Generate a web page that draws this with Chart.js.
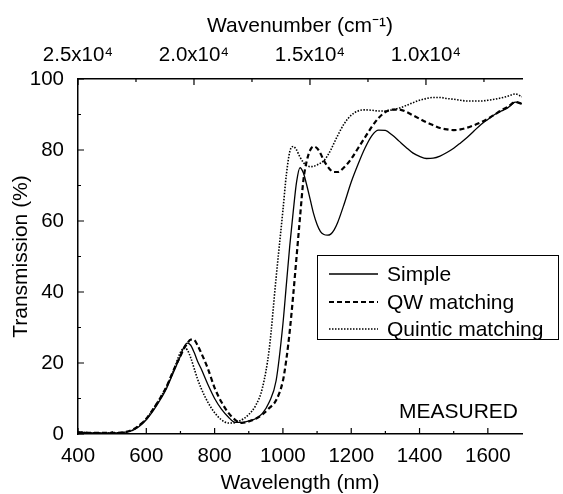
<!DOCTYPE html>
<html lang="en">
<head>
  <meta charset="UTF-8">
  <title>Transmission spectra</title>
  <script src="https://cdn.jsdelivr.net/npm/chart.js"></script>
  <style>
    html, body { margin: 0; padding: 0; background: #fff; }
    canvas { display: block; }
  </style>
</head>
<body>
  <canvas id="chart" width="563" height="494"></canvas>
  <script>
    // wavelength grid (nm) shared by the three curves
    const wavelength = [400, 450, 500, 540, 560, 580, 600, 620, 640, 660, 680, 700, 710, 720, 730, 740, 750, 760, 780, 800,
      820, 840, 860, 880, 900, 920, 940, 960, 980, 1000, 1010, 1020, 1030, 1040, 1050, 1060, 1070, 1080, 1090, 1100,
      1110, 1120, 1130, 1140, 1150, 1160, 1180, 1200, 1220, 1240, 1260, 1280, 1300, 1320, 1340, 1360, 1380, 1400,
      1420, 1440, 1460, 1480, 1500, 1520, 1540, 1560, 1580, 1600, 1620, 1640, 1660, 1680, 1700];

    // transmission (%)
    const simple = [0.5, 0.3, 0.3, 0.5, 1, 2.2, 4, 6.5, 9.5, 13, 17.5, 22, 24.5, 25.6, 25, 23, 20.5, 18.5, 14, 10,
      7, 4.8, 3.3, 3.3, 3.7, 4.3, 5.8, 9, 15, 31, 42, 53, 62.5, 71, 75, 73.5, 70, 66, 62, 59,
      57, 56.2, 56, 56.3, 57.5, 59.5, 65, 71, 76, 80.5, 84, 85.6, 85.5, 84.2, 82.5, 80.8, 79.2, 78.2,
      77.6, 77.7, 78.3, 79.3, 80.5, 82, 83.6, 85.4, 87.2, 88.6, 90, 91, 92, 93.5, 93];

    const qwMatching = [0.5, 0.3, 0.3, 0.6, 1.2, 2.5, 4.3, 7, 10, 13.5, 18, 22, 24, 25.5, 26.6, 26.5, 25, 23, 18.5, 13,
      9, 6, 4, 3.1, 3.5, 4.3, 5.5, 7.3, 9.5, 15, 21, 29, 39, 50, 61, 71.5, 77, 80, 81, 80.5,
      79, 77, 75.5, 74.3, 73.8, 73.8, 75.2, 77.5, 80.5, 83.5, 86.5, 89, 90.7, 91.4, 91.4, 90.8, 89.8, 88.8,
      87.8, 87, 86.2, 85.8, 85.6, 85.8, 86.3, 87, 87.8, 88.8, 90, 91.2, 92.2, 93.5, 93];

    const quinticMatching = [0.5, 0.3, 0.3, 0.5, 1.1, 2.4, 4.3, 7, 10, 13.5, 18, 23, 24.2, 23.7, 21.5, 18.5, 15.5, 13, 9, 6,
      4, 3.1, 3.2, 4, 5.5, 8, 13, 24, 44, 63, 73, 79.5, 81, 80, 78, 76.5, 75.6, 75.3, 75.4, 75.8,
      76.3, 77, 78.3, 80, 82, 84, 87.5, 89.8, 91, 91.3, 91.2, 91, 91, 91.3, 91.8, 92.5, 93.3, 94,
      94.5, 94.8, 94.8, 94.5, 94.3, 94, 93.8, 93.8, 93.8, 94, 94.3, 94.7, 95.2, 95.8, 95];

    const seriesNames = ['Simple', 'QW matching', 'Quintic matching'];

    // tick labels
    const wavelengthLabels = [400, 600, 800, 1000, 1200, 1400, 1600];
    const transmissionLabels = [0, 20, 40, 60, 80, 100];
    const wavenumberTicks = [7500, 10000, 12500, 15000, 17500, 20000, 22500, 25000];
    const wavenumberValues = [25000, 20000, 15000, 10000];
    const wavenumberLabels = ['2.5x10\u2074', '2.0x10\u2074', '1.5x10\u2074', '1.0x10\u2074'];

    const FONT = "'Liberation Sans', Arial, sans-serif";

    const toPoints = (ys) => wavelength.map((x, i) => ({ x: x, y: ys[i] }));

    const styles = [
      { borderWidth: 1.3, borderDash: [], borderColor: '#000' },
      { borderWidth: 2.2, borderDash: [5, 3], borderColor: '#000' },
      { borderWidth: 1.6, borderDash: [1.5, 1.5], borderColor: '#000' }
    ];

    // inward tick marks, drawn from the scales' own ticks
    const innerTicks = {
      id: 'innerTicks',
      afterDraw(chart) {
        const ctx = chart.ctx;
        const { x, y, x2 } = chart.scales;
        ctx.save();
        ctx.strokeStyle = '#000';
        ctx.lineWidth = 1.2;
        ctx.beginPath();
        x.ticks.forEach(t => {
          if (t.value >= 1700) return;
          const px = x.getPixelForValue(t.value);
          const len = wavelengthLabels.includes(t.value) ? 6 : 3;
          ctx.moveTo(px, x.top);
          ctx.lineTo(px, x.top - len);
        });
        y.ticks.forEach(t => {
          const py = y.getPixelForValue(t.value);
          const len = transmissionLabels.includes(t.value) ? 6 : 3;
          ctx.moveTo(y.right, py);
          ctx.lineTo(y.right + len, py);
        });
        x2.ticks.forEach(t => {
          const px = x2.getPixelForValue(t.value);
          const len = wavenumberValues.includes(t.value) ? 6 : 3;
          ctx.moveTo(px, x2.bottom);
          ctx.lineTo(px, x2.bottom + len);
        });
        ctx.stroke();
        ctx.restore();
      }
    };

    // legend box and the MEASURED note inside the plot
    const legendBox = {
      id: 'legendBox',
      afterDraw(chart) {
        const ctx = chart.ctx;
        ctx.save();
        ctx.fillStyle = '#fff';
        ctx.fillRect(317, 255, 241, 84);
        ctx.strokeStyle = '#000';
        ctx.lineWidth = 1;
        ctx.strokeRect(317.5, 255.5, 241, 84);
        const rows = [274, 302, 329];
        ctx.font = '21px ' + FONT;
        ctx.textBaseline = 'middle';
        rows.forEach((ry, i) => {
          const s = styles[i];
          ctx.beginPath();
          ctx.setLineDash(s.borderDash);
          ctx.lineWidth = s.borderWidth;
          ctx.strokeStyle = s.borderColor;
          ctx.moveTo(329, ry);
          ctx.lineTo(378, ry);
          ctx.stroke();
          ctx.setLineDash([]);
          ctx.fillStyle = '#000';
          ctx.textAlign = 'left';
          ctx.fillText(seriesNames[i], 387, ry + 1);
        });
        ctx.textAlign = 'right';
        ctx.fillText('MEASURED', 518, 412);
        ctx.restore();
      }
    };

    const tickFont = { family: FONT, size: 20.5 };
    const titleFont = { family: FONT, size: 21 };

    new Chart(document.getElementById('chart'), {
      type: 'line',
      data: {
        datasets: [simple, qwMatching, quinticMatching].map((ys, i) => Object.assign({
          label: seriesNames[i],
          data: toPoints(ys),
          pointRadius: 0,
          fill: false,
          cubicInterpolationMode: 'monotone',
          xAxisID: 'x',
          yAxisID: 'y'
        }, styles[i]))
      },
      options: {
        responsive: false,
        animation: false,
        layout: { padding: { left: 0, right: 41, top: 0, bottom: 0 } },
        plugins: { legend: { display: false }, tooltip: { enabled: false } },
        scales: {
          x: {
            type: 'linear',
            position: 'bottom',
            min: 400,
            max: 1700,
            grid: { display: false },
            border: { display: true, color: '#000', width: 1.5 },
            ticks: {
              stepSize: 100,
              autoSkip: false,
              maxRotation: 0,
              padding: 2,
              color: '#000',
              font: tickFont,
              callback: (v) => wavelengthLabels.includes(v) ? String(v) : ''
            },
            title: { display: true, text: 'Wavelength (nm)', color: '#000', font: titleFont, padding: { top: 0, bottom: -2 } },
            afterFit: (s) => { s.height = 60; }
          },
          x2: {
            type: 'linear',
            position: 'top',
            display: true,
            reverse: true,
            min: 5860,
            max: 25000,
            grid: { display: false },
            border: { display: true, color: '#000', width: 1.5 },
            afterBuildTicks: (s) => { s.ticks = wavenumberTicks.map(v => ({ value: v })); },
            ticks: {
              autoSkip: false,
              maxRotation: 0,
              padding: 3,
              color: '#000',
              font: tickFont,
              callback: (v) => {
                const k = wavenumberValues.indexOf(v);
                return k >= 0 ? wavenumberLabels[k] : '';
              }
            },
            title: { display: true, text: 'Wavenumber (cm\u207B\u00B9)', color: '#000', font: titleFont, padding: { top: 14, bottom: 0 } },
            afterFit: (s) => { s.height = 79; }
          },
          y: {
            type: 'linear',
            position: 'left',
            min: 0,
            max: 100,
            grid: { display: false },
            border: { display: true, color: '#000', width: 1.5 },
            ticks: {
              stepSize: 10,
              autoSkip: false,
              padding: 6,
              color: '#000',
              font: tickFont,
              callback: (v) => transmissionLabels.includes(v) ? String(v) : ''
            },
            title: { display: true, text: 'Transmission (%)', color: '#000', font: titleFont, padding: { top: 9, bottom: 0 } },
            afterFit: (s) => { s.width = 78; }
          }
        }
      },
      plugins: [innerTicks, legendBox]
    });
  </script>
</body>
</html>
